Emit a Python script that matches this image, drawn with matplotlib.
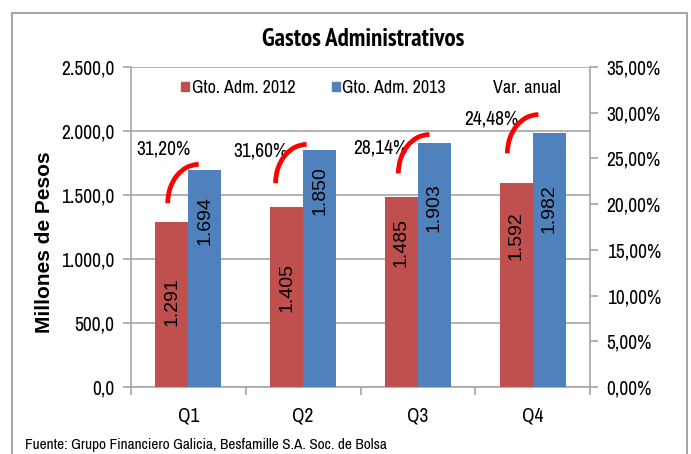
import matplotlib
matplotlib.use('Agg')
import matplotlib.pyplot as plt
from matplotlib.patches import Patch, Arc, Rectangle
from matplotlib.lines import Line2D
from matplotlib.ticker import FuncFormatter, MultipleLocator
import numpy as np

# datos
quarters = ['Q1', 'Q2', 'Q3', 'Q4']
gto_2012 = [1291, 1405, 1485, 1592]
gto_2013 = [1694, 1850, 1903, 1982]
var_anual = [31.20, 31.60, 28.14, 24.48]

# posiciones de etiquetas / arcos (unidades de datos, ajustadas a ojo)
pct_dx = [-0.22, -0.37, -0.33, -0.36]
pct_y = [1863, 1840, 1871, 2096]
arc_dx = [0.09, 0.03, 0.10, 0.05]
arc_y = [1436, 1592, 1669, 1825]
red_lbl_y = [668, 776, 1126, 1180]
blue_lbl_y = [1297, 1537, 1398, 1390]

NARROW = ['Archivo Narrow', 'DejaVu Sans']
NARROW_BOLD = ['PT Sans Narrow', 'Roboto Condensed', 'DejaVu Sans']
REG = ['Liberation Sans', 'DejaVu Sans']
plt.rcParams['font.family'] = NARROW

C_RED = '#C0504D'
C_BLUE = '#4F81BD'
C_GRID = '#A6A6A6'

fig = plt.figure(figsize=(6.91, 4.54), dpi=100)
ax = fig.add_axes([131 / 691, 1 - 387 / 454, (590 - 131) / 691, (387 - 67) / 454])

x = np.arange(len(quarters))
w = 0.287
ax.bar(x - w / 2, gto_2012, w, color=C_RED, zorder=3)
ax.bar(x + w / 2, gto_2013, w, color=C_BLUE, zorder=3)

ax.set_xlim(-0.5, 3.5)
ax.set_ylim(0, 2500)
ax.yaxis.set_major_locator(MultipleLocator(500))
fmt_es = lambda v, p: f"{v:,.1f}".replace(',', 'X').replace('.', ',').replace('X', '.')
ax.yaxis.set_major_formatter(FuncFormatter(fmt_es))
ax.grid(axis='y', color=C_GRID, lw=1.2, zorder=0)
ax.set_xticks(x)
ax.set_xticklabels(quarters)
ax.set_xticks(np.arange(-0.5, 4, 1), minor=True)
ax.tick_params(axis='x', which='major', length=0, pad=14, labelsize=14)
ax.tick_params(axis='x', which='minor', length=6, color=C_GRID, width=1.2)
ax.tick_params(axis='y', length=6, color=C_GRID, width=1.2, labelsize=14, pad=6)
for s in ['left', 'bottom', 'right']:
    ax.spines[s].set_color(C_GRID)
    ax.spines[s].set_linewidth(1.2)
ax.spines['top'].set_visible(False)

ax2 = ax.twinx()
ax2.set_ylim(0, 35)
ax2.yaxis.set_major_locator(MultipleLocator(5))
ax2.yaxis.set_major_formatter(FuncFormatter(lambda v, p: f"{v:.2f}%".replace('.', ',')))
ax2.tick_params(axis='y', length=6, color=C_GRID, width=1.2, labelsize=14, pad=6)
for s in ['left', 'bottom', 'right', 'top']:
    ax2.spines[s].set_visible(False)

# etiquetas de valores dentro de las barras
for i in range(len(quarters)):
    ax.text(x[i] - w / 2, red_lbl_y[i], f"{gto_2012[i]:,}".replace(',', '.'),
            rotation=90, ha='center', va='center', fontsize=14, family=REG, zorder=5)
    ax.text(x[i] + w / 2, blue_lbl_y[i], f"{gto_2013[i]:,}".replace(',', '.'),
            rotation=90, ha='center', va='center', fontsize=14, family=REG, zorder=5)
    # variacion anual con arco rojo
    ax.text(x[i] + pct_dx[i], pct_y[i], f"{var_anual[i]:.2f}%".replace('.', ','),
            ha='center', va='center', fontsize=14, zorder=5)
    ax.add_patch(Arc((x[i] + arc_dx[i], arc_y[i]), 0.54, 606, theta1=90, theta2=180,
                     color='#FF0000', lw=3.4, zorder=6))

handles = [Patch(color=C_RED), Patch(color=C_BLUE), Line2D([], [], color='none')]
fig.legend(handles, ['Gto. Adm. 2012', 'Gto. Adm. 2013', 'Var. anual'], ncol=3,
           loc='center', bbox_to_anchor=(371 / 691, 1 - 88 / 454), frameon=False,
           fontsize=13, handlelength=0.45, handleheight=0.45, handletextpad=0.15,
           columnspacing=2.0)

fig.text(363 / 691, 1 - 40 / 454, 'Gastos Administrativos', ha='center', va='center',
         fontsize=18, fontweight='bold', family=NARROW_BOLD)
fig.text(45 / 691, 1 - 242 / 454, 'Millones de Pesos', rotation=90, ha='center',
         va='center', fontsize=15, fontweight='bold', family=REG)
fig.text(25 / 691, 1 - 445 / 454, 'Fuente: Grupo Financiero Galicia, Besfamille S.A. Soc. de Bolsa',
         ha='left', va='center', fontsize=11)

fig.patches.append(Rectangle((12 / 691, -0.1), (687 - 12) / 691, 1.1 - 13 / 454,
                             transform=fig.transFigure, fill=False, ec=C_GRID, lw=1.5))

fig.savefig('out.png', dpi=100)
